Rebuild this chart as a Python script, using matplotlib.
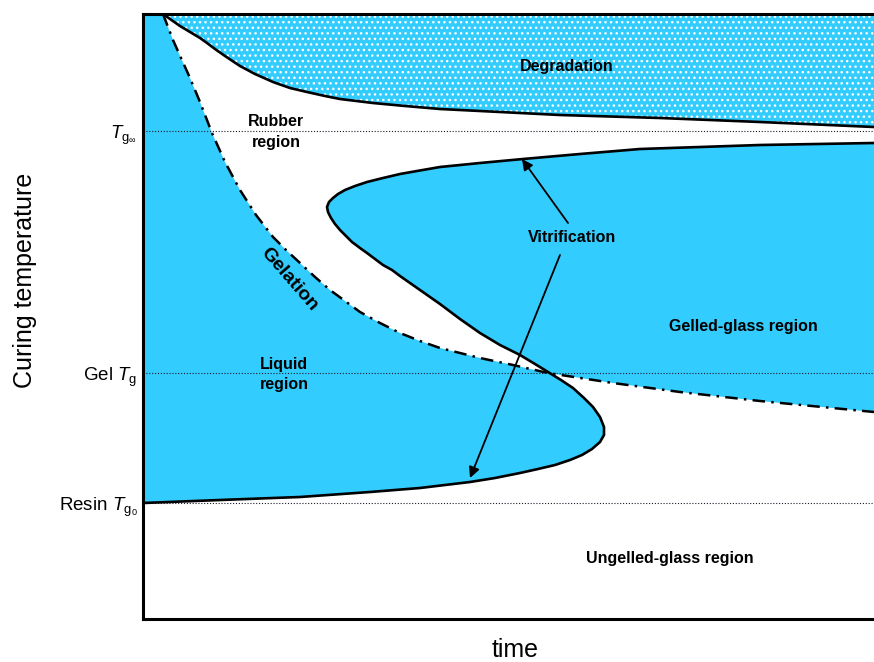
import numpy as np
import matplotlib
matplotlib.use("Agg")
import matplotlib.pyplot as plt

plt.rcParams['font.family'] = ['Liberation Sans', 'DejaVu Sans']
plt.rcParams['mathtext.fontset'] = 'custom'
plt.rcParams['mathtext.rm'] = 'Liberation Sans'
plt.rcParams['mathtext.it'] = 'Liberation Sans:italic'
plt.rcParams['mathtext.bf'] = 'Liberation Sans:bold'
plt.rcParams['hatch.color'] = 'white'
plt.rcParams['hatch.linewidth'] = 1.0

BLUE = '#33ccff'

# time / temperature scale in arbitrary units (0..731 in time, 0..605 in temperature)
T_END = 731
T_TOP = 605

# characteristic temperatures
tg_inf = 488
gel_tg = 246
tg0 = 116

# gelation curve (time, temperature)
gel_time = [20, 25, 30, 38, 47, 57, 69, 82, 97, 113, 130, 143, 157, 172, 187, 202,
            217, 237, 257, 277, 297, 317, 337, 370, 405, 470, 537, 617, 731]
gel_temp = [605, 592, 579, 561, 541, 517, 486, 457, 429, 404, 382, 369, 356, 342,
            329, 318, 307, 296, 286, 278, 271, 266, 261, 254, 246, 236, 227, 218, 207]

# vitrification S-curve, from the low-temperature branch round both noses
vit_time = [0, 77, 157, 227, 277, 327, 352, 377, 395, 412,
            427, 439, 449, 457, 461, 461, 457, 450, 441, 430,
            418, 405, 392, 377, 357, 337, 317, 297, 277, 267,
            257, 249, 240, 232, 224, 217, 209, 202, 197, 192,
            188, 185, 184, 186, 190, 195, 202, 212, 224, 240,
            257, 274, 297, 337, 380, 437, 497, 557, 617, 731]
vit_temp = [116, 119, 122, 127, 131, 137, 141, 146, 150, 154,
            159, 164, 170, 177, 184, 192, 202, 212, 221, 231,
            239, 247, 255, 264, 274, 286, 300, 315, 329, 336,
            343, 349, 354, 360, 366, 371, 377, 384, 389, 395,
            401, 407, 412, 417, 421, 425, 429, 433, 437, 441,
            445, 448, 452, 456, 460, 465, 470, 472, 474, 476]

# degradation onset curve
deg_time = [20, 27, 37, 47, 57, 64, 72, 82, 97, 112, 130, 147, 164, 182, 197, 230,
            262, 297, 357, 417, 517, 617, 731]
deg_temp = [605, 600, 593, 587, 581, 576, 570, 563, 553, 545, 537, 531, 527, 523,
            520, 516, 513, 510, 507, 504, 501, 497, 492]

gel_time = np.array(gel_time, float); gel_temp = np.array(gel_temp, float)
vit_time = np.array(vit_time, float); vit_temp = np.array(vit_temp, float)
deg_time = np.array(deg_time, float); deg_temp = np.array(deg_temp, float)

W, H = 874, 662
fig = plt.figure(figsize=(W / 100, H / 100), dpi=100)
ax = fig.add_axes([143 / W, 1 - 619 / H, 1 - 143 / W, (619 - 14) / H])
ax.set_xlim(0, T_END)
ax.set_ylim(0, T_TOP)

# split points where gelation meets vitrification
ig = int(np.argmin(np.abs(gel_temp - gel_tg)))
iv = int(np.argmin(np.abs(vit_temp - gel_tg) + np.abs(vit_time - gel_time[ig])))

# liquid region: left of gelation, above low-temperature vitrification branch
liq_x = np.concatenate([[0], gel_time[:ig + 1], vit_time[:iv + 1][::-1]])
liq_y = np.concatenate([[T_TOP], gel_temp[:ig + 1], vit_temp[:iv + 1][::-1]])
ax.fill(liq_x, liq_y, color=BLUE, lw=0, zorder=1)

# gelled-glass region
gg_x = np.concatenate([vit_time[iv:], [T_END], gel_time[ig:][::-1]])
gg_y = np.concatenate([vit_temp[iv:], [gel_temp[-1]], gel_temp[ig:][::-1]])
ax.fill(gg_x, gg_y, color=BLUE, lw=0, zorder=1)

# degradation region
dg_x = np.concatenate([deg_time, [T_END]])
dg_y = np.concatenate([deg_temp, [T_TOP]])
ax.fill(dg_x, dg_y, facecolor=BLUE, edgecolor='white', hatch='...', lw=0, zorder=1)

# reference temperature lines
for lvl in (tg_inf, gel_tg, tg0):
    ax.axhline(lvl, color='#1a1a2a', lw=0.8, ls=(0, (1, 1.6)), zorder=2)

# curves
ax.plot(gel_time, gel_temp, color='black', lw=1.8, ls=(0, (5, 2.5, 1, 2.5)), zorder=4)
ax.plot(vit_time, vit_temp, color='black', lw=1.9, zorder=4,
        solid_joinstyle='round', solid_capstyle='round')
ax.plot(deg_time, deg_temp, color='black', lw=1.9, zorder=4,
        solid_joinstyle='round', solid_capstyle='round')

# labels
fs = 11.5
kw = dict(fontsize=fs, fontweight='bold', ha='center', va='center', zorder=5)
ax.text(424, 553, 'Degradation', **kw)
ax.text(133, 497, 'Rubber', **kw)
ax.text(133, 477, 'region', **kw)
ax.text(141, 255, 'Liquid', **kw)
ax.text(141, 235, 'region', **kw)
ax.text(600, 292, 'Gelled-glass region', **kw)
ax.text(527, 60, 'Ungelled-glass region', **kw)
ax.text(146, 340, 'Gelation', fontsize=14, fontweight='bold', ha='center',
        va='center', rotation=-49, zorder=5)
ax.text(429, 381, 'Vitrification', **kw)

arrow = dict(arrowstyle='-|>', color='black', lw=1.3, mutation_scale=16,
             shrinkA=0, shrinkB=0)
ax.annotate('', xy=(379, 460), xytext=(425, 396), arrowprops=arrow, zorder=5)
ax.annotate('', xy=(327, 141), xytext=(417, 364), arrowprops=arrow, zorder=5)

# axes styling
ax.set_yticks([tg_inf, gel_tg, tg0])
ax.set_yticklabels([r'$T_{\mathrm{g}_{\infty}}$', r'Gel $T_{\mathrm{g}}$',
                    r'Resin $T_{\mathrm{g}_{0}}$'], fontsize=13.5)
ax.set_xticks([])
ax.tick_params(axis='y', length=0, pad=4)
for s in ('left', 'top', 'bottom'):
    ax.spines[s].set_linewidth(2.2)
ax.spines['right'].set_visible(False)

fig.text(25 / W, 1 - 280 / H, 'Curing temperature', rotation=90, fontsize=18,
         ha='center', va='center')
fig.text(515 / W, 5 / H, 'time', fontsize=18, ha='center', va='baseline')

fig.savefig('out.png', dpi=100)
